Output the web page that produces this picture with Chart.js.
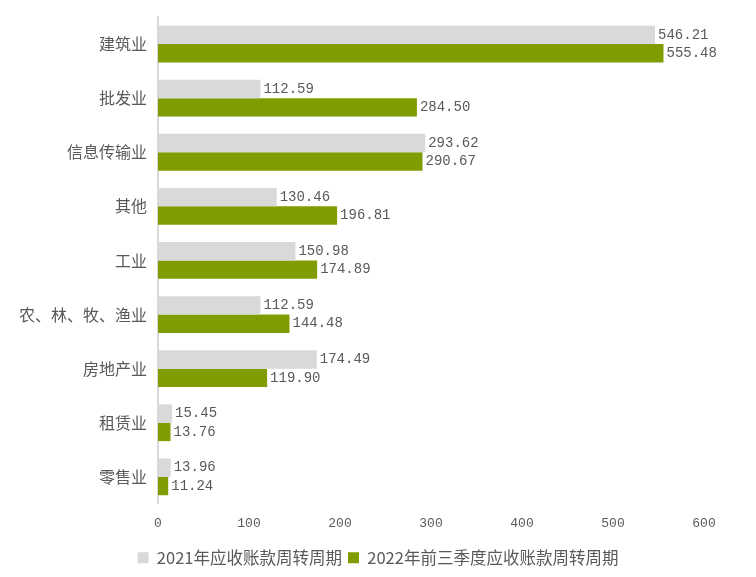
<!DOCTYPE html>
<html><head><meta charset="utf-8">
<script src="https://cdn.jsdelivr.net/npm/chart.js@4/dist/chart.umd.min.js"></script>
<style>html,body{margin:0;padding:0;background:#fff}#wrap{width:756px;height:577px}</style>
</head><body><div id="wrap"><canvas id="c" width="756" height="577"></canvas></div>
<script>
const categories = ['建筑业','批发业','信息传输业','其他','工业','农、林、牧、渔业','房地产业','租赁业','零售业'];
const series2021 = [546.21,112.59,293.62,130.46,150.98,112.59,174.49,15.45,13.96];
const series2022 = [555.48,284.50,290.67,196.81,174.89,144.48,119.90,13.76,11.24];
const seriesNames = ['2021年应收账款周转周期','2022年前三季度应收账款周转周期'];
const xTicks = [0,100,200,300,400,500,600];

const labelPlugin = {
  id:'vals',
  afterDatasetsDraw(chart){
    const ctx = chart.ctx;
    ctx.save();
    ctx.font = '14px "Liberation Mono", monospace';
    ctx.fillStyle = '#595959';
    ctx.textAlign = 'left';
    ctx.textBaseline = 'middle';
    chart.data.datasets.forEach((ds,di)=>{
      chart.getDatasetMeta(di).data.forEach((bar,i)=>{
        ctx.fillText(ds.data[i].toFixed(2), bar.x + 3, bar.y);
      });
    });
    ctx.restore();
  }
};

new Chart(document.getElementById('c'), {
  type:'bar',
  data:{
    labels: categories,
    datasets:[
      {label: seriesNames[0], data: series2021, backgroundColor:'#d9d9d9', categoryPercentage:0.68, barPercentage:1.0},
      {label: seriesNames[1], data: series2022, backgroundColor:'#7f9c00', categoryPercentage:0.68, barPercentage:1.0}
    ]
  },
  options:{
    indexAxis:'y',
    responsive:false,
    animation:false,
    layout:{padding:{top:17,right:0,left:0,bottom:1}},
    plugins:{
      legend:{position:'bottom',labels:{boxWidth:11,boxHeight:11,padding:6,color:'#595959',font:{family:'"Noto Sans CJK SC", sans-serif',size:16.5}}},
      tooltip:{enabled:false}
    },
    scales:{
      x:{min:0,max:600,
        afterBuildTicks(s){ s.ticks = xTicks.map(v=>({value:v})); },
        grid:{display:false,drawTicks:false},
        border:{display:false},
        ticks:{color:'#595959',padding:12,font:{family:'"Liberation Mono", monospace',size:13}}
      },
      y:{
        afterFit(s){ s.width = 158; s.paddingTop = 0; s.paddingBottom = 0; },
        grid:{display:false,drawTicks:false},
        border:{display:true,color:'#d9d9d9',width:2},
        ticks:{color:'#595959',padding:11,font:{family:'"Noto Sans CJK SC", sans-serif',size:16}}
      },
      yr:{
        position:'right',
        type:'category',
        labels: categories,
        afterFit(s){ s.width = 52; s.paddingTop = 0; s.paddingBottom = 0; },
        grid:{display:false,drawTicks:false},
        border:{display:false},
        ticks:{display:false}
      }
    }
  },
  plugins:[labelPlugin]
});
</script></body></html>
